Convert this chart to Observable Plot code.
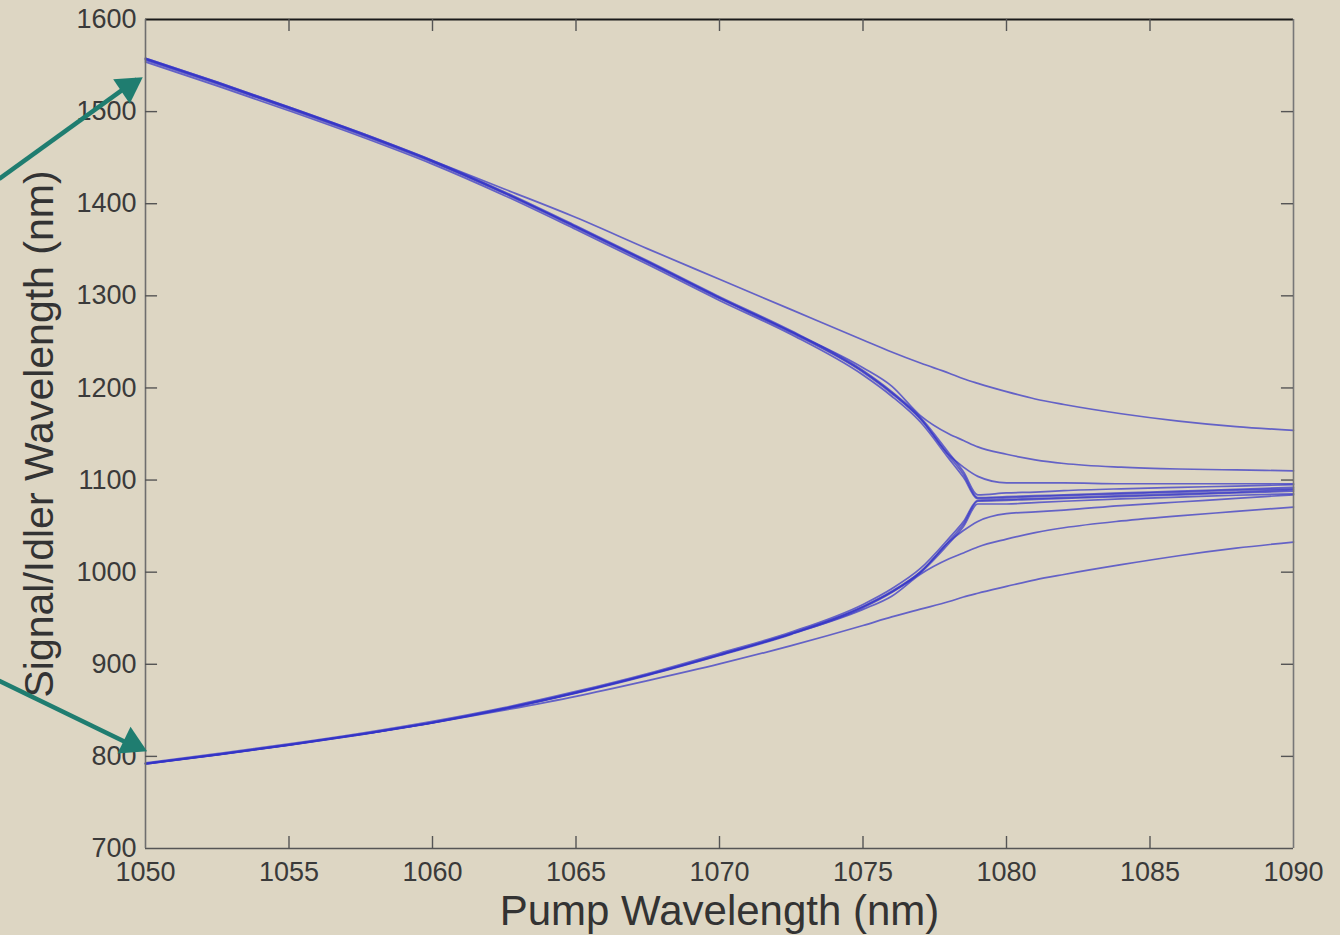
<!DOCTYPE html>
<html>
<head>
<meta charset="utf-8">
<script src="https://cdn.jsdelivr.net/npm/d3@7"></script>
<script src="https://cdn.jsdelivr.net/npm/@observablehq/plot@0.6"></script>
<style>
  html, body { margin: 0; padding: 0; background: #ddd6c3; }
  #chart svg { display: block; }
</style>
</head>
<body>
<div id="chart"></div>
<script>
// Pump wavelengths (nm) at which each tuning curve is sampled
const pump = [1050, 1052.5, 1055, 1057.5, 1060, 1062.5, 1065, 1067.5, 1070, 1072.5,
              1075, 1076, 1077, 1078, 1078.5, 1079, 1080, 1081, 1082, 1084, 1086, 1088, 1090];

// Fibre 1: branches stay well separated past the zero-dispersion point
const signal1 = [1558, 1532, 1505, 1477, 1447, 1416, 1385, 1351, 1318, 1285,
                 1252, 1239, 1227, 1216, 1210, 1205, 1196, 1188, 1182, 1172, 1164, 1158, 1154];
const idler1  = [791.8, 801.6, 812.2, 823.6, 836.3, 850.2, 865.2, 882.3, 900.4, 920.3,
                 942.1, 951.4, 959.8, 968.1, 973.0, 977.1, 984.5, 991.7, 997.5, 1008.1, 1017.8, 1026.0, 1032.7];

// Fibre 2
const signal2 = [1557, 1531, 1504, 1476, 1446, 1412, 1375, 1337, 1298, 1261,
                 1222, 1202, 1170, 1150, 1143, 1136, 1128, 1122, 1118, 1114, 1112, 1111, 1110];
const idler2  = [792, 802, 812.5, 824, 836.7, 851.7, 869, 888.5, 910, 933,
                 959.6, 973.9, 997.7, 1014.5, 1020.9, 1027.4, 1035.9, 1042.9, 1048.2, 1055.6, 1061.2, 1065.9, 1070.7];

// Fibre 3
const signal3 = [1557, 1531, 1504, 1476, 1446, 1412, 1375, 1337, 1298, 1261,
                 1218, 1195, 1167, 1127, 1114, 1104, 1097, 1097, 1097, 1096, 1096, 1096, 1096];
const idler3  = [792, 802, 812.5, 824, 836.7, 851.7, 869.2, 888.6, 910.3, 933.3,
                 962.4, 978.5, 999.9, 1033.1, 1045.2, 1055.1, 1063.5, 1065.5, 1067.4, 1072.3, 1076.2, 1080.1, 1084.0];

// Fibres 4-6: collapse onto the pump near 1079 nm
const signal4 = [1556, 1530, 1503, 1475, 1445, 1411, 1374, 1336, 1297, 1260,
                 1217, 1194, 1166, 1126, 1106, 1081, 1082, 1083, 1084, 1086, 1088, 1090, 1092];
const idler4  = [792.3, 802.1, 812.7, 824.2, 837.0, 852.1, 869.5, 888.9, 910.6, 933.6,
                 962.7, 979.2, 1000.6, 1033.9, 1052.3, 1077.0, 1078, 1079, 1080, 1082, 1084, 1086, 1088];

const signal5 = [1558, 1532, 1505, 1477, 1447, 1413, 1376, 1338, 1299, 1262,
                 1219, 1196, 1168, 1129, 1109, 1084, 1086, 1087, 1088.5, 1090.5, 1092, 1093.5, 1095];
const idler5  = [791.8, 801.6, 812.2, 823.6, 836.3, 851.3, 868.7, 888.0, 909.6, 932.5,
                 961.4, 977.9, 999.2, 1031.4, 1049.6, 1074.0, 1074, 1075.5, 1077, 1079.5, 1081.5, 1083.5, 1085];

const signal6 = [1554, 1528, 1501, 1473, 1443, 1409, 1372, 1334, 1295, 1258,
                 1214, 1191, 1163, 1123, 1103, 1080, 1081, 1082, 1083, 1085, 1087, 1089, 1090.5];
const idler6  = [793, 803, 813.5, 825, 838, 853, 870.5, 890, 912, 935,
                 965, 982, 1004, 1037, 1055, 1078, 1079, 1080, 1081, 1083, 1085, 1087, 1089.5];

const branches = [
  ["signal 1", signal1], ["idler 1", idler1],
  ["signal 2", signal2], ["idler 2", idler2],
  ["signal 3", signal3], ["idler 3", idler3],
  ["signal 4", signal4], ["idler 4", idler4],
  ["signal 5", signal5], ["idler 5", idler5],
  ["signal 6", signal6], ["idler 6", idler6]
];

// Axis ticks
const xTicks = [1050, 1055, 1060, 1065, 1070, 1075, 1080, 1085, 1090];
const yTicks = [700, 800, 900, 1000, 1100, 1200, 1300, 1400, 1500, 1600];
const xInner = [1055, 1060, 1065, 1070, 1075, 1080, 1085];
const yInner = [800, 900, 1000, 1100, 1200, 1300, 1400, 1500];

const xTitle = "Pump Wavelength (nm)";
const yTitle = "Signal/Idler Wavelength (nm)";

// Pointer arrows to the start of the signal and idler branches
const arrows = [
  {x1: 1044.9, y1: 1427, x2: 1049.7, y2: 1535, hx: 1049.41, hy: 1527, angle: 56},
  {x1: 1044.9, y1: 882,  x2: 1049.8, y2: 808,  hx: 1049.52, hy: 813.6, angle: 116}
];

const rows = branches.flatMap(([key, values]) =>
  values.map((wl, i) => ({key, pump: pump[i], wl})));

const xMin = 1050, xMax = 1090, yMin = 700, yMax = 1600;
const teal = "#1f7d70";

const chart = Plot.plot({
  width: 1340,
  height: 935,
  marginTop: 19,
  marginBottom: 87,
  marginLeft: 145,
  marginRight: 47,
  style: {background: "#ddd6c3", fontFamily: "'Liberation Sans', Arial, sans-serif"},
  x: {domain: [xMin, xMax]},
  y: {domain: [yMin, yMax]},
  marks: [
    Plot.line(rows, {
      x: "pump", y: "wl", z: "key",
      stroke: "#3434c8", strokeWidth: 1.7, strokeOpacity: 0.72,
      curve: "monotone-x"
    }),
    // box
    Plot.ruleY([yMin], {stroke: "#555", strokeWidth: 1.6}),
    Plot.ruleY([yMax], {stroke: "#1a1a1a", strokeWidth: 2.2}),
    Plot.ruleX([xMin], {stroke: "#6e6e6e", strokeWidth: 1.6}),
    Plot.ruleX([xMax], {stroke: "#777", strokeWidth: 1.6}),
    // inward ticks
    Plot.ruleX(xInner, {x: d => d, y1: yMin, y2: yMin + 13, stroke: "#555", strokeWidth: 1.4}),
    Plot.ruleX(xInner, {x: d => d, y1: yMax, y2: yMax - 13, stroke: "#555", strokeWidth: 1.4}),
    Plot.ruleY(yInner, {y: d => d, x1: xMin, x2: xMin + 0.42, stroke: "#555", strokeWidth: 1.4}),
    Plot.ruleY(yInner, {y: d => d, x1: xMax, x2: xMax - 0.42, stroke: "#555", strokeWidth: 1.4}),
    Plot.axisX({ticks: xTicks, tickSize: 0, tickPadding: 13, fontSize: 27, label: null,
                tickFormat: d => String(d), color: "#3a3a3a"}),
    Plot.axisY({ticks: yTicks, tickSize: 0, tickPadding: 9, fontSize: 27, label: null,
                tickFormat: d => String(d), color: "#3a3a3a"}),
    Plot.text([xTitle], {frameAnchor: "bottom", dy: 63, text: d => d, fontSize: 42,
                         textAnchor: "middle", lineAnchor: "middle", fill: "#333"}),
    Plot.text([yTitle], {frameAnchor: "left", dx: -106, rotate: -90, text: d => d, fontSize: 41,
                         textAnchor: "middle", lineAnchor: "middle", fill: "#333"}),
    // arrows
    Plot.link(arrows, {x1: "x1", y1: "y1", x2: "x2", y2: "y2", stroke: teal, strokeWidth: 4.5}),
    Plot.dot(arrows, {x: "hx", y: "hy", symbol: "triangle", r: 11, rotate: "angle", fill: teal, stroke: "none"})
  ]
});

document.getElementById("chart").appendChild(chart);
</script>
</body>
</html>
